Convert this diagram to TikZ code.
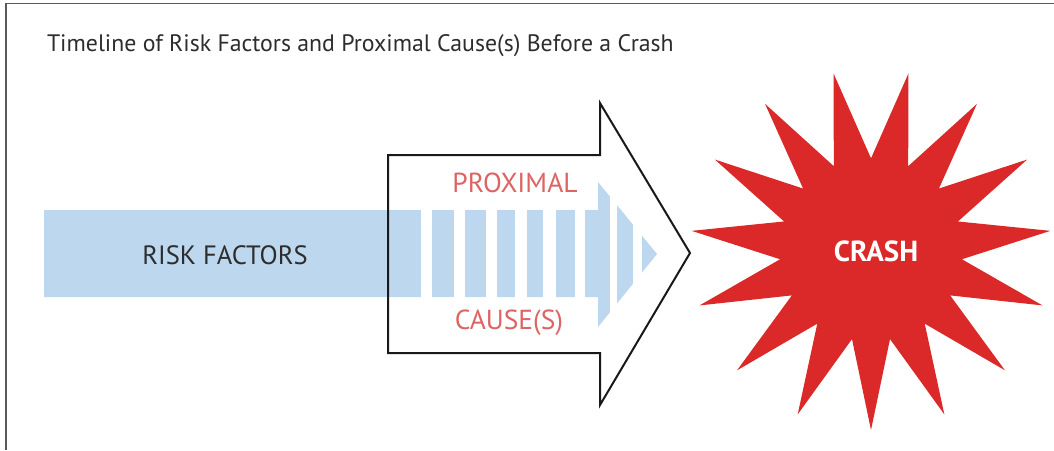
\documentclass[tikz,border=0pt]{standalone}
\usepackage{fontspec}
\setmainfont{PT Sans}
\definecolor{barblue}{RGB}{189,215,238}
\definecolor{crashred}{RGB}{218,41,40}
\definecolor{proxred}{RGB}{221,100,100}
\definecolor{darktext}{RGB}{45,45,45}
\definecolor{framegray}{RGB}{90,90,90}
\tikzset{
  every node/.style={inner sep=0pt, outer sep=0pt},
  gap/.style={fill=white, draw=none},
  outlinearrow/.style={draw=black!90, line width=2pt, line join=miter, fill=none},
  proxtext/.style={text=proxred, font=\fontsize{27.5}{27.5}\selectfont},
}
\begin{document}
\begin{tikzpicture}[x=1pt, y=-1pt]
\useasboundingbox (0,0) rectangle (1054,450);
\fill[white] (0,0) rectangle (1054,450);
% frame
\draw[framegray, line width=1.5pt] (6,450) -- (6,3.5) -- (1054,3.5);
% title
\node[anchor=west, text=darktext, font=\fontsize{23.8}{23.8}\selectfont] (title) at (47,46) {Timeline of Risk Factors and Proximal Cause(s) Before a Crash};
% blue arrow
\fill[barblue] (44,210) -- (598,210) -- (598,182) -- (657,254) -- (598,327) -- (598,297) -- (44,297) -- cycle;
\foreach \a/\b in {421/432,454/465,486/497,515/527,543/556,575/585,610/617,633/642}
  \fill[gap] (\a,175) rectangle (\b,335);
% outline arrow
\draw[outlinearrow] (388,155) -- (600,155) -- (600,103) -- (690,253) -- (600,405) -- (600,353) -- (388,353) -- cycle;
% texts
\node[text=darktext, font=\fontsize{26.5}{26.5}\selectfont] (risk) at (225,255) {RISK FACTORS};
\node[proxtext] (prox) at (515,183) {PROXIMAL};
\node[proxtext] (cause) at (509,323) {CAUSE(S)};
% star
\fill[crashred, shift={(871,249.7)}] (90:180.3)
  \foreach \k in {0,...,14} { -- (90+24*\k:180.3) -- (102+24*\k:91.4) } -- cycle;
\node[text=white, font=\bfseries\fontsize{29}{29}\selectfont] (crash) at (876,251.7) {CRASH};
\end{tikzpicture}
\end{document}
